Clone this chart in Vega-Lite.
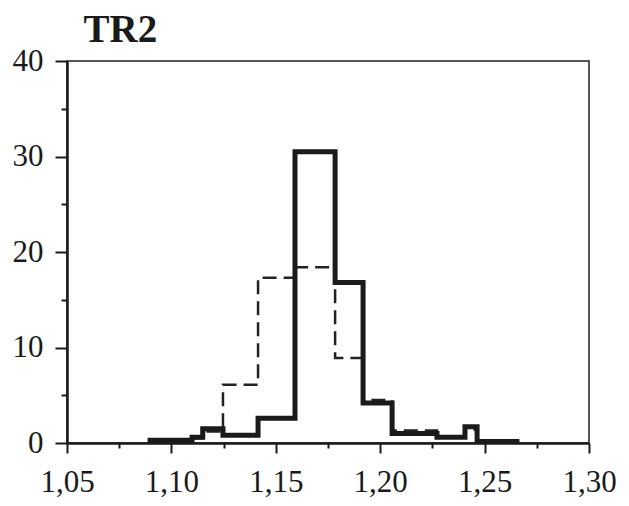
{
  "$schema": "https://vega.github.io/schema/vega-lite/v6.json",
  "width": 522,
  "height": 382,
  "autosize": {"type": "none"},
  "padding": {"left": 67, "top": 61, "right": 40, "bottom": 63},
  "background": "white",
  "config": {
    "view": {"stroke": "#222", "strokeWidth": 1.5},
    "axis": {
      "domainColor": "#1a1a1a",
      "domainWidth": 2.5,
      "tickColor": "#1a1a1a",
      "tickWidth": 2,
      "grid": false,
      "labelFont": "Liberation Serif",
      "labelFontSize": 31,
      "labelColor": "#1a1a1a"
    }
  },
  "datasets": {
    "solid": [
      {"i": 0, "x": 1.0898, "y": 0},
      {"i": 1, "x": 1.0898, "y": 0.3},
      {"i": 2, "x": 1.1099, "y": 0.6},
      {"i": 3, "x": 1.115, "y": 1.5},
      {"i": 4, "x": 1.1247, "y": 0.8},
      {"i": 5, "x": 1.1415, "y": 2.6},
      {"i": 6, "x": 1.1592, "y": 30.5},
      {"i": 7, "x": 1.1784, "y": 16.8},
      {"i": 8, "x": 1.1918, "y": 4.2},
      {"i": 9, "x": 1.2057, "y": 1.0},
      {"i": 10, "x": 1.2272, "y": 0.6},
      {"i": 11, "x": 1.2406, "y": 1.7},
      {"i": 12, "x": 1.2464, "y": 0.15},
      {"i": 13, "x": 1.2655, "y": 0}
    ],
    "dashed": [
      {"i": 0, "x": 1.1099, "y": 0.5},
      {"i": 1, "x": 1.115, "y": 1.2},
      {"i": 2, "x": 1.1247, "y": 6.1},
      {"i": 3, "x": 1.1415, "y": 17.3},
      {"i": 4, "x": 1.1592, "y": 18.4},
      {"i": 5, "x": 1.1784, "y": 8.9},
      {"i": 6, "x": 1.1918, "y": 4.5},
      {"i": 7, "x": 1.2057, "y": 1.3},
      {"i": 8, "x": 1.2272, "y": 0.6},
      {"i": 9, "x": 1.2406, "y": 1.4},
      {"i": 10, "x": 1.2464, "y": 0.1},
      {"i": 11, "x": 1.2655, "y": 0}
    ]
  },
  "encoding": {
    "x": {
      "field": "x",
      "type": "quantitative",
      "scale": {"domain": [1.05, 1.3], "nice": false, "zero": false},
      "axis": {
        "title": null,
        "values": [1.05, 1.075, 1.1, 1.125, 1.15, 1.175, 1.2, 1.225, 1.25, 1.275, 1.3],
        "labelExpr": "abs(datum.value*20 - round(datum.value*20)) < 0.001 ? replace(format(datum.value, '.2f'), '.', ',') : ''",
        "tickSize": {"condition": {"test": "abs(datum.value*20 - round(datum.value*20)) < 0.001", "value": 10}, "value": 5},
        "labelPadding": 14,
        "labelFlush": false,
        "labelOverlap": false
      }
    },
    "y": {
      "field": "y",
      "type": "quantitative",
      "scale": {"domain": [0, 40], "nice": false},
      "axis": {
        "title": "TR2",
        "titleAngle": 0,
        "titleAlign": "left",
        "titleBaseline": "alphabetic",
        "titleX": 16,
        "titleY": -20,
        "titleFont": "Liberation Serif",
        "titleFontSize": 39,
        "titleFontWeight": "bold",
        "titleColor": "#1a1a1a",
        "values": [0, 5, 10, 15, 20, 25, 30, 35, 40],
        "labelExpr": "datum.value % 10 === 0 ? datum.label : ''",
        "tickSize": {"condition": {"test": "datum.value % 10 === 0", "value": 12}, "value": 6},
        "labelPadding": 12,
        "labelOverlap": false
      }
    },
    "order": {"field": "i", "type": "quantitative"}
  },
  "layer": [
    {
      "data": {"name": "dashed"},
      "mark": {"type": "line", "interpolate": "step-after", "color": "#222", "strokeWidth": 2.5, "strokeDash": [14, 7]}
    },
    {
      "data": {"name": "solid"},
      "mark": {"type": "line", "interpolate": "step-after", "color": "#1a1a1a", "strokeWidth": 5, "strokeJoin": "miter"}
    }
  ]
}
